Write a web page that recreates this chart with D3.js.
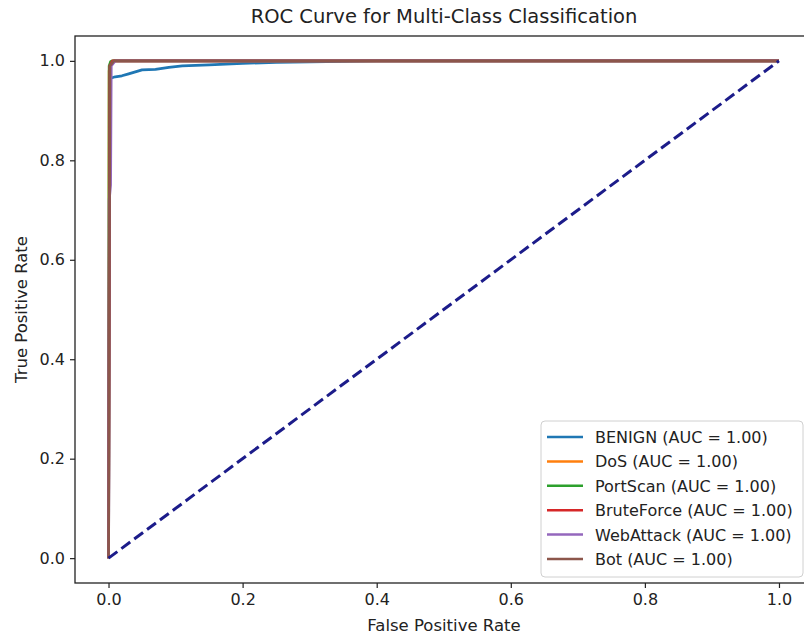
<!DOCTYPE html>
<html lang="en">
<head>
<meta charset="UTF-8">
<title>ROC Curve for Multi-Class Classification</title>
<style>
  body { margin: 0; background: #fff; }
  text { font-family: "DejaVu Sans", sans-serif; fill: #222; }
</style>
</head>
<body>
<script src="https://d3js.org/d3.v7.min.js"></script>
<script>
// class names and AUC values
var classes = ["BENIGN", "DoS", "PortScan", "BruteForce", "WebAttack", "Bot"];
var aucs = [1.00, 1.00, 1.00, 1.00, 1.00, 1.00];
var colors = ["#1f77b4", "#ff7f0e", "#2ca02c", "#d62728", "#9467bd", "#8c564b"];

// roc points per class [fpr, tpr]
var benignRoc = [[0, 0], [0.002, 0.93], [0.003, 0.965], [0.01, 0.968], [0.02, 0.970], [0.03, 0.974],
  [0.04, 0.978], [0.05, 0.982], [0.07, 0.983], [0.09, 0.987], [0.11, 0.990], [0.15, 0.992],
  [0.2, 0.995], [0.25, 0.997], [0.3, 0.998], [0.4, 1.0], [1, 1]];
var dosRoc = [[0, 0], [0.001, 0.98], [0.004, 0.998], [0.01, 1.0], [1, 1]];
var portScanRoc = [[0, 0], [0.001, 0.99], [0.003, 0.998], [0.006, 1.0], [1, 1]];
var bruteForceRoc = [[0, 0], [0.002, 0.99], [0.006, 1.0], [1, 1]];
var webAttackRoc = [[0, 0], [0.001, 0.72], [0.003, 0.75], [0.004, 0.99], [0.01, 1.0], [1, 1]];
var botRoc = [[0, 0], [0.002, 0.99], [0.008, 1.0], [1, 1]];
var rocs = [benignRoc, dosRoc, portScanRoc, bruteForceRoc, webAttackRoc, botRoc];

var chance = [[0, 0], [1, 1]];
var ticks = [0.0, 0.2, 0.4, 0.6, 0.8, 1.0];

var W = 804, H = 636;
var svg = d3.select("body").append("svg").attr("width", W).attr("height", H);

// plot box
var box = { left: 75, top: 36, bottom: 583, right: 812.5 };
var x = d3.scaleLinear().domain([-0.05, 1.05]).range([box.left, box.right]);
var y = d3.scaleLinear().domain([-0.05, 1.05]).range([box.bottom, box.top]);

var line = d3.line().x(function(d){ return x(d[0]); }).y(function(d){ return y(d[1]); });

// curves
svg.selectAll("path.roc").data(rocs).enter().append("path")
  .attr("class", "roc")
  .attr("d", line)
  .attr("fill", "none")
  .attr("stroke", function(d, i){ return colors[i]; })
  .attr("stroke-width", 2.8)
  .attr("stroke-linejoin", "round");

// diagonal
svg.append("path").attr("d", line(chance))
  .attr("fill", "none").attr("stroke", "#1c1c8a")
  .attr("stroke-width", 3).attr("stroke-dasharray", "11,5");

// axes
var xAxis = svg.append("g").attr("transform", "translate(0," + box.bottom + ")")
  .call(d3.axisBottom(x).tickValues(ticks).tickFormat(d3.format(".1f")).tickSize(5).tickPadding(6));
var yAxis = svg.append("g").attr("transform", "translate(" + box.left + ",0)")
  .call(d3.axisLeft(y).tickValues(ticks).tickFormat(d3.format(".1f")).tickSize(5).tickPadding(5));
[xAxis, yAxis].forEach(function(g){
  g.select(".domain").remove();
  g.selectAll("line").attr("stroke", "#222").attr("stroke-width", 1.2);
  g.selectAll("text").attr("font-size", 16).attr("font-family", "DejaVu Sans").attr("fill", "#222");
});

// frame
svg.append("rect").attr("x", box.left).attr("y", box.top)
  .attr("width", box.right - box.left).attr("height", box.bottom - box.top)
  .attr("fill", "none").attr("stroke", "#222").attr("stroke-width", 1.3);

// titles
svg.append("text").attr("x", 444).attr("y", 23).attr("text-anchor", "middle")
  .attr("font-size", 19.5).text("ROC Curve for Multi-Class Classification");
svg.append("text").attr("x", 444).attr("y", 631).attr("text-anchor", "middle")
  .attr("font-size", 16.5).text("False Positive Rate");
svg.append("text").attr("transform", "translate(27," + ((box.top + box.bottom) / 2) + ") rotate(-90)")
  .attr("text-anchor", "middle").attr("font-size", 16.5).text("True Positive Rate");

// legend
var lg = svg.append("g").attr("transform", "translate(541,421)");
lg.append("rect").attr("width", 262).attr("height", 156).attr("rx", 4)
  .attr("fill", "#fff").attr("fill-opacity", 0.85).attr("stroke", "#d0d0d0");
var items = lg.selectAll("g.item").data(classes).enter().append("g")
  .attr("class", "item")
  .attr("transform", function(d, i){ return "translate(0," + (16 + i * 24.4) + ")"; });
items.append("line").attr("x1", 6).attr("x2", 42).attr("y1", 0).attr("y2", 0)
  .attr("stroke", function(d, i){ return colors[i]; }).attr("stroke-width", 2.5);
items.append("text").attr("x", 54).attr("y", 6).attr("font-size", 16)
  .text(function(d, i){ return d + " (AUC = " + aucs[i].toFixed(2) + ")"; });
</script>
</body>
</html>
